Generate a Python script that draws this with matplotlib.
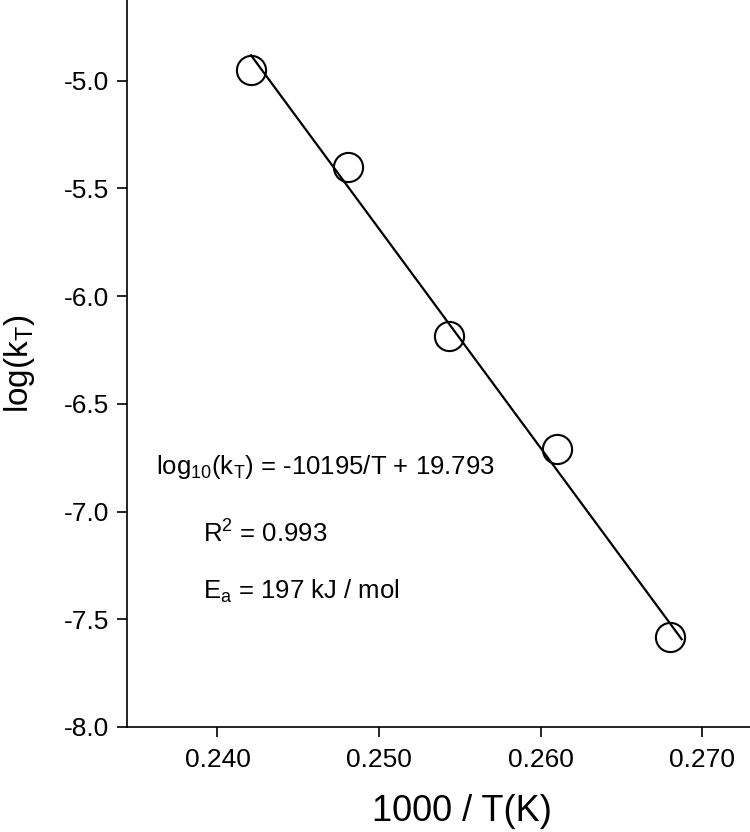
import numpy as np
import matplotlib
matplotlib.use("Agg")
import matplotlib.pyplot as plt

plt.rcParams['font.family'] = ['Liberation Sans', 'DejaVu Sans']
plt.rcParams['mathtext.fontset'] = 'custom'
plt.rcParams['mathtext.rm'] = 'Liberation Sans'
plt.rcParams['mathtext.it'] = 'Liberation Sans:italic'

# data
inv_T = [0.24208, 0.24808, 0.25435, 0.26101, 0.26801]
log_k = [-4.950, -5.399, -6.185, -6.710, -7.584]
fit_range = [0.24208, 0.26874]

x_ticks = [0.240, 0.250, 0.260, 0.270]
y_ticks = [-8.0, -7.5, -7.0, -6.5, -6.0, -5.5, -5.0]

eq_text = r'log$_{10}$(k$_\mathrm{T}$) = -10195/T + 19.793'
r2_text = r'R$^{2}$ = 0.993'
ea_text = r'E$_\mathrm{a}$ = 197 kJ / mol'

fig = plt.figure(figsize=(7.5, 8.32), dpi=100)
ax = fig.add_axes([127/750, 1 - 727/832, 1 - 127/750, 727/832])

# linear fit
B, A = np.polyfit(inv_T, log_k, 1)
xf = np.array(fit_range)
ax.plot(xf, A + B*xf, 'k-', lw=1.6, zorder=2)
ax.plot(inv_T, log_k, 'o', ms=21, mfc='none', mec='k', mew=1.5, zorder=3)

ax.set_xlim(0.2344, 0.27297)
ax.set_ylim(-8.0, -4.625)
ax.set_xticks(x_ticks)
ax.set_xticklabels(['%.3f' % v for v in x_ticks])
ax.set_yticks(y_ticks)
ax.set_yticklabels(['%.1f' % v for v in y_ticks])

for s in ['top', 'right']:
    ax.spines[s].set_visible(False)
for s in ['left', 'bottom']:
    ax.spines[s].set_linewidth(1.2)
ax.tick_params(axis='both', direction='out', length=7, width=1.2, labelsize=19)
ax.tick_params(axis='x', pad=8)
ax.tick_params(axis='y', pad=6)

ax.set_xlabel('1000 / T(K)', fontsize=26, labelpad=16)
ax.xaxis.label.set_x(0.538)
ax.set_ylabel(r'log(k$_\mathrm{T}$)', fontsize=24, labelpad=19)

ax.text(0.23617, -6.826, eq_text, fontsize=18.5, va='baseline')
ax.text(0.23913, -7.142, r2_text, fontsize=18.5, va='baseline')
ax.text(0.23913, -7.406, ea_text, fontsize=18.5, va='baseline')

fig.savefig('out.png', dpi=100)
